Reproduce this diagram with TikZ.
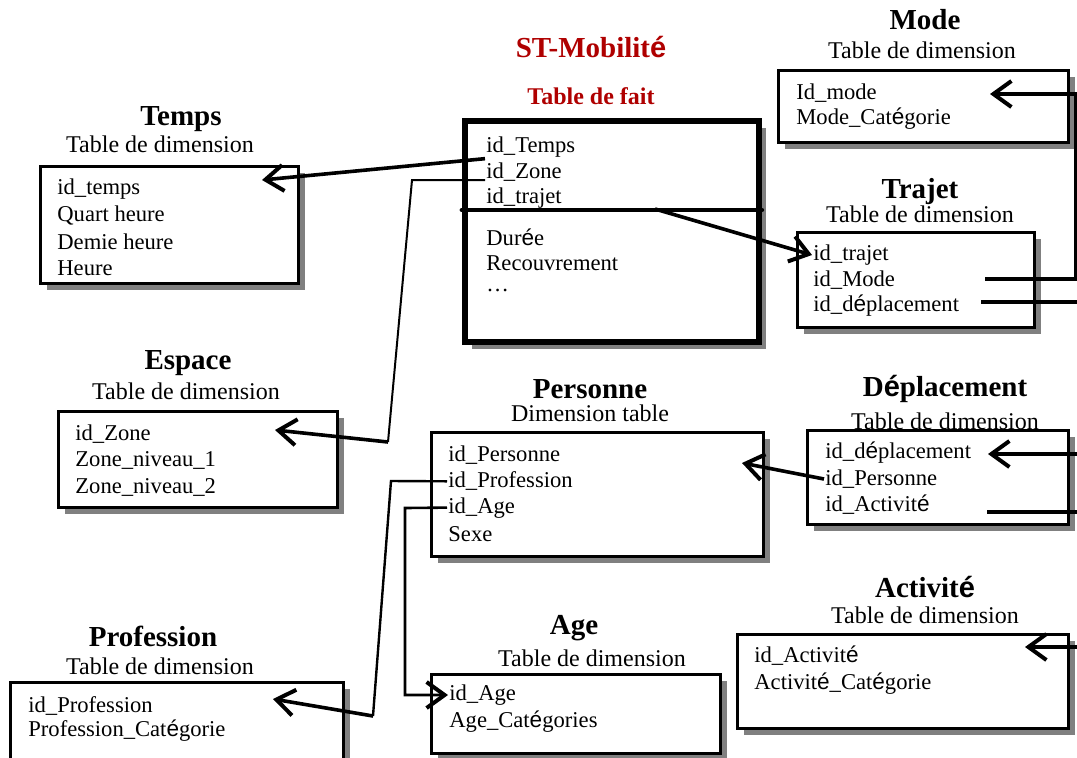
\documentclass[tikz,border=0pt]{standalone}
\usepackage{fontspec}
\setmainfont{Liberation Serif}
\newfontfamily\accfont{Liberation Sans}
\newcommand{\ee}{{\accfont é}}
\usetikzlibrary{arrows.meta,shapes,calc,positioning,fit,shadows}
\definecolor{factred}{RGB}{175,0,0}
% one field per line, from a given start and line step
\newcommand{\fields}[5]{\foreach \f [count=\i] in {#5}
  \node[field] (#1\i) at (#2,{#3+#4*(\i-1)}) {\f};}

\begin{document}
\begin{tikzpicture}[x=0.5pt, y=-0.5pt,
  dim/.style={draw, line width=1.5pt, fill=white, inner sep=0pt,
    drop shadow={shadow xshift=3.5pt, shadow yshift=-3.5pt, fill=black!50, opacity=1}},
  fact/.style={dim, line width=2.8pt},
  field/.style={anchor=west, inner sep=0.5pt, font=\fontsize{11.3}{13}\selectfont},
  title/.style={font=\fontsize{14.5}{16}\selectfont\bfseries},
  sub/.style={font=\fontsize{12}{14}\selectfont},
  link/.style={line width=1pt},
  ref/.style={-{Straight Barb[length=9pt, width=13pt, line width=2pt]}, line width=1.8pt}]
  \useasboundingbox (0,0) rectangle (1077,757);

  % tables
  \node[dim, fit={(40,166) (298,283)}] (temps) {};
  \node[dim, fit={(58,411) (337,507)}] (espace) {};
  \node[fact, fit={(465,121) (759,342)}] (st) {};
  \node[dim, fit={(778,70) (1068,142)}] (mode) {};
  \node[dim, fit={(797,232) (1034,327)}] (trajet) {};
  \node[dim, fit={(431,432) (763,556)}] (personne) {};
  \node[dim, fit={(807,430) (1068,524)}] (depl) {};
  \node[dim, fit={(737,634) (1068,728)}] (activite) {};
  \node[dim, fit={(431,674) (720,753)}] (age) {};
  \node[dim, fit={(10,682) (343,765)}] (profession) {};
  \draw[line width=2.4pt, line cap=round] (462,210) -- (st.east |- 0,210);

  % titles
  \node[title, text=factred] (st-t) at (591,47) {ST-Mobilit\ee};
  \node[font=\fontsize{12}{14}\selectfont\bfseries, text=factred] (st-s) at (591,96) {Table de fait};
  \node[title] (temps-t) at (181,119) {Temps};
  \node[sub] (temps-s) at (160,144) {Table de dimension};
  \node[title] (espace-t) at (188,363) {Espace};
  \node[sub] (espace-s) at (186,391) {Table de dimension};
  \node[title] (mode-t) at (925,20) {Mode};
  \node[sub] (mode-s) at (922,50) {Table de dimension};
  \node[title] (trajet-t) at (920,192) {Trajet};
  \node[sub] (trajet-s) at (920,214) {Table de dimension};
  \node[title] (personne-t) at (590,389) {Personne};
  \node[sub] (personne-s) at (590,413) {Dimension table};
  \node[title] (depl-t) at (945,389) {D\ee placement};
  \node[sub] (depl-s) at (945,421) {Table de dimension};
  \node[title] (activite-t) at (925,587) {Activit\ee};
  \node[sub] (activite-s) at (925,615) {Table de dimension};
  \node[title] (age-t) at (574,628) {Age};
  \node[sub] (age-s) at (592,658) {Table de dimension};
  \node[title] (profession-t) at (153,636) {Profession};
  \node[sub] (profession-s) at (160,666) {Table de dimension};

  % fields
  \fields{tf}{56}{189}{26.3}{id\_temps, Quart heure, Demie heure, Heure}
  \fields{ef}{74}{434}{26.5}{id\_Zone, Zone\_niveau\_1, Zone\_niveau\_2}
  \fields{sf}{485}{147}{25.5}{id\_Temps, id\_Zone, id\_trajet}
  \fields{mf}{485}{237}{26.5}{Dur\ee e, Recouvrement, \dots}
  \fields{of}{795}{93}{26}{Id\_mode, Mode\_Cat\ee gorie}
  \fields{rf}{812}{255}{25.5}{id\_trajet, id\_Mode, id\_d\ee placement}
  \fields{pf}{447}{455}{26.3}{id\_Personne, id\_Profession, id\_Age, Sexe}
  \fields{df}{824}{453}{26}{id\_d\ee placement, id\_Personne, id\_Activit\ee}
  \fields{af}{753}{656}{28}{id\_Activit\ee, Activit\ee\_Cat\ee gorie}
  \fields{gf}{448}{695}{27}{id\_Age, Age\_Cat\ee gories}
  \fields{qf}{27}{706}{25}{id\_Profession, Profession\_Cat\ee gorie}

  % links
  \coordinate (temps-in) at (262,180);
  \coordinate (zone-a) at (412,180);
  \coordinate (zone-b) at (388,442);
  \coordinate (espace-in) at (275,430);
  \coordinate (trajet-out) at (655,209);
  \coordinate (mode-out) at (985,279);
  \coordinate (mode-in) at (990,94);
  \coordinate (depl-out) at (981,302);
  \coordinate (depl-in) at (988,454);
  \coordinate (act-out) at (987,512);
  \coordinate (act-in) at (1025,647);
  \coordinate (pers-in) at (742,463);
  \coordinate (prof-a) at (391,481);
  \coordinate (prof-b) at (373,716);
  \coordinate (prof-in) at (273,699);
  \coordinate (age-a) at (405,508);

  \draw[ref] (sf1.south west) -- (temps-in);
  \draw[link] (sf2.south west |- zone-a) -- (zone-a) -- (zone-b);
  \draw[ref] (zone-b) -- (espace-in);
  \draw[ref] (trajet-out) -- (rf1.west);
  \draw[ref, line width=1.6pt] (mode-out) -- ++(91,0) |- (mode-in);
  \draw[ref, line width=1.6pt] (depl-out) -- ++(110,0) |- (depl-in);
  \draw[ref, line width=1.6pt] (act-out) -- ++(110,0) |- (act-in);
  \draw[ref] (df2.west) -- (pers-in);
  \draw[link, line width=1.2pt] (pf2.west) -- (prof-a) -- (prof-b);
  \draw[ref] (prof-b) -- (prof-in);
  \draw[ref, line width=1.3pt] (pf3.west) -- (age-a) |- (gf1.west);
\end{tikzpicture}
\end{document}
